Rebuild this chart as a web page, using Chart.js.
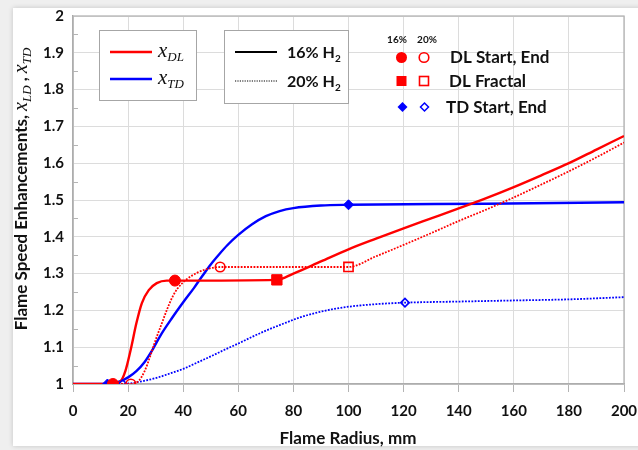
<!DOCTYPE html>
<html>
<head>
<meta charset="utf-8">
<script src="https://cdn.jsdelivr.net/npm/chart.js@4.4.1/dist/chart.umd.min.js"></script>
<style>
  html, body { margin: 0; padding: 0; background: #efefef; }
  #flame_chart { display: block; }
</style>
</head>
<body>
<canvas id="flame_chart" width="638" height="450"></canvas>
<script>
// axis tick labels
const xTickLabels = ['0', '20', '40', '60', '80', '100', '120', '140', '160', '180', '200'];
const yTickLabels = ['1', '1.1', '1.2', '1.3', '1.4', '1.5', '1.6', '1.7', '1.8', '1.9', '2'];

// DL enhancement, 16% H2 (solid red)
const dl16Radius = [0, 14.5, 17, 19, 21, 23, 25, 27.5, 30.4, 34, 37, 74, 80, 90, 100, 110, 120, 130, 140, 150, 160, 170, 180, 190, 200];
const dl16Speed  = [1, 1, 1.005, 1.035, 1.095, 1.165, 1.22, 1.255, 1.274, 1.281, 1.281, 1.283, 1.300, 1.333, 1.366, 1.395, 1.423, 1.450, 1.477, 1.505, 1.535, 1.567, 1.600, 1.637, 1.674];

// DL enhancement, 20% H2 (dotted red)
const dl20Radius = [0, 21, 24, 26, 28, 30, 32, 34, 36, 38, 41, 45, 49, 53.4, 100, 110, 120, 130, 140, 150, 160, 170, 180, 190, 200];
const dl20Speed  = [1, 1, 1.01, 1.035, 1.075, 1.12, 1.16, 1.2, 1.235, 1.26, 1.283, 1.302, 1.313, 1.318, 1.318, 1.347, 1.378, 1.41, 1.443, 1.474, 1.507, 1.542, 1.578, 1.616, 1.656];

// TD enhancement, 16% H2 (solid blue)
const td16Radius = [0, 12.5, 15, 17, 20, 23, 26, 29, 32, 36, 40, 44, 47, 50, 53, 56, 60, 65, 70, 75, 80, 90, 100, 150, 200];
const td16Speed  = [1, 1, 1.002, 1.007, 1.018, 1.035, 1.06, 1.095, 1.135, 1.18, 1.222, 1.262, 1.294, 1.325, 1.352, 1.377, 1.405, 1.434, 1.456, 1.47, 1.478, 1.485, 1.487, 1.49, 1.494];

// TD enhancement, 20% H2 (dotted blue)
const td20Radius = [0, 18, 24, 30, 35, 40, 45, 50, 55, 60, 65, 70, 76, 82, 88, 94, 100, 110, 120.5, 140, 160, 180, 200];
const td20Speed  = [1, 1, 1.006, 1.016, 1.028, 1.041, 1.058, 1.075, 1.093, 1.11, 1.128, 1.145, 1.163, 1.18, 1.193, 1.203, 1.21, 1.217, 1.221, 1.224, 1.227, 1.23, 1.236];

// marker points
const dlEnds16R = [14.5, 37];     const dlEnds16X = [1.0, 1.281];
const dlEnds20R = [21, 53.4];     const dlEnds20X = [1.0, 1.318];
const dlFrac16R = [74];           const dlFrac16X = [1.283];
const dlFrac20R = [100];          const dlFrac20X = [1.318];
const tdEnds16R = [12.5, 100];    const tdEnds16X = [1.0, 1.487];
const tdEnds20R = [18, 120.5];    const tdEnds20X = [1.0, 1.221];

const RED = 'rgb(255,0,0)';
const BLUE = 'rgb(0,0,255)';

function pts(xs, ys) {
  return xs.map((x, i) => ({ x: x, y: ys[i] }));
}

function curve(xs, ys, color, dotted) {
  return {
    type: 'line',
    data: pts(xs, ys),
    borderColor: color,
    borderWidth: dotted ? 1.8 : 2.4,
    borderDash: dotted ? [1.8, 1.4] : [],
    pointRadius: 0,
    fill: false,
    cubicInterpolationMode: 'monotone'
  };
}

function marks(xs, ys, color, style, r, filled) {
  return {
    type: 'scatter',
    data: pts(xs, ys),
    showLine: false,
    pointStyle: style,
    pointRadius: r,
    pointBorderWidth: filled ? 1 : 1.6,
    pointBorderColor: color,
    pointBackgroundColor: filled ? color : 'rgba(0,0,0,0)'
  };
}

// background card, plot frame and minor ticks
const framePlugin = {
  id: 'frame',
  beforeDraw(chart) {
    const c = chart.ctx;
    c.save();
    c.fillStyle = '#efefef';
    c.fillRect(0, 0, chart.width, chart.height);
    c.shadowColor = 'rgba(0,0,0,0.18)';
    c.shadowBlur = 5;
    c.fillStyle = '#ffffff';
    c.fillRect(13, 8, 630, 438);
    c.restore();
  },
  beforeDatasetsDraw(chart) {
    const c = chart.ctx;
    const a = chart.chartArea;
    const y = chart.scales.y;
    c.save();
    c.strokeStyle = '#b4b4b4';
    c.lineWidth = 1.3;
    c.strokeRect(a.left, a.top, a.right - a.left, a.bottom - a.top);
    c.lineWidth = 1;
    for (let v = 1.05; v < 2; v += 0.1) {
      const py = Math.round(y.getPixelForValue(v)) + 0.5;
      c.beginPath();
      c.moveTo(a.left, py);
      c.lineTo(a.left + 5, py);
      c.stroke();
    }
    c.restore();
  }
};

// text runs with mixed fonts; dy shifts the baseline for subscripts
function drawRuns(c, runs, x, y) {
  let cx = x;
  runs.forEach(r => {
    c.font = r.font;
    c.fillText(r.t, cx, y + (r.dy || 0));
    cx += c.measureText(r.t).width;
  });
  return cx;
}
function runsWidth(c, runs) {
  let w = 0;
  runs.forEach(r => { c.font = r.font; w += c.measureText(r.t).width; });
  return w;
}

const SERIF_I = 'italic 21px "Liberation Serif"';
const SERIF_SUB = 'italic 13px "Liberation Serif"';
const SANS_B = 'bold 16px Lato';

const labelsPlugin = {
  id: 'labels',
  afterDraw(chart) {
    const c = chart.ctx;
    c.save();
    c.fillStyle = '#111';
    c.textBaseline = 'alphabetic';
    c.textAlign = 'left';

    // x axis title
    c.font = 'bold 17px Lato';
    c.textAlign = 'center';
    c.fillText('Flame Radius, mm', 348, 444);
    c.textAlign = 'left';

    // y axis title, rotated
    const yRuns = [
      { t: 'Flame Speed Enhancements, ', font: 'bold 17px Lato' },
      { t: 'x', font: 'italic 20px "Liberation Serif"' },
      { t: 'LD', font: SERIF_SUB, dy: 4 },
      { t: ' , ', font: 'bold 17px Lato' },
      { t: 'x', font: 'italic 20px "Liberation Serif"' },
      { t: 'TD', font: SERIF_SUB, dy: 4 }
    ];
    c.save();
    c.translate(27, 189);
    c.rotate(-Math.PI / 2);
    drawRuns(c, yRuns, -runsWidth(c, yRuns) / 2, 0);
    c.restore();

    // series legend box
    c.fillStyle = '#fff';
    c.fillRect(99.5, 30.5, 97, 70);
    c.strokeStyle = '#a6a6a6';
    c.lineWidth = 1;
    c.strokeRect(99.5, 30.5, 97, 70);
    c.lineWidth = 2.4;
    c.strokeStyle = RED;
    c.beginPath(); c.moveTo(110, 52); c.lineTo(152, 52); c.stroke();
    c.strokeStyle = BLUE;
    c.beginPath(); c.moveTo(110, 79); c.lineTo(152, 79); c.stroke();
    c.fillStyle = '#111';
    drawRuns(c, [{ t: 'x', font: SERIF_I }, { t: 'DL', font: SERIF_SUB, dy: 4 }], 158, 57);
    drawRuns(c, [{ t: 'x', font: SERIF_I }, { t: 'TD', font: SERIF_SUB, dy: 4 }], 158, 84);

    // H2 content legend box
    c.fillStyle = '#fff';
    c.fillRect(224.5, 30.5, 124, 73);
    c.strokeStyle = '#a6a6a6';
    c.lineWidth = 1;
    c.strokeRect(224.5, 30.5, 124, 73);
    c.strokeStyle = '#000';
    c.lineWidth = 2.2;
    c.beginPath(); c.moveTo(235, 52); c.lineTo(277, 52); c.stroke();
    c.lineWidth = 1.2;
    c.setLineDash([1.2, 1.2]);
    c.beginPath(); c.moveTo(235, 81); c.lineTo(277, 81); c.stroke();
    c.setLineDash([]);
    c.fillStyle = '#111';
    drawRuns(c, [{ t: '16% H', font: SANS_B }, { t: '2', font: 'bold 10px Lato', dy: 4 }], 287, 58);
    drawRuns(c, [{ t: '20% H', font: SANS_B }, { t: '2', font: 'bold 10px Lato', dy: 4 }], 287, 87);

    // marker key
    c.font = 'bold 10px Lato';
    c.textAlign = 'center';
    c.fillText('16%', 397, 43);
    c.fillText('20%', 427, 43);
    c.textAlign = 'left';

    c.fillStyle = RED;
    c.strokeStyle = RED;
    c.lineWidth = 1.6;
    c.beginPath(); c.arc(401.5, 57.5, 5.5, 0, Math.PI * 2); c.fill();
    c.beginPath(); c.arc(424, 57.5, 4.8, 0, Math.PI * 2); c.stroke();
    c.fillRect(396.5, 76, 10, 10);
    c.strokeRect(419.5, 76.5, 9, 9);
    c.fillStyle = BLUE;
    c.strokeStyle = BLUE;
    c.beginPath();
    c.moveTo(402.5, 102); c.lineTo(407.5, 107); c.lineTo(402.5, 112); c.lineTo(397.5, 107);
    c.closePath(); c.fill();
    c.lineWidth = 1.5;
    c.beginPath();
    c.moveTo(424.5, 103); c.lineTo(428.5, 107); c.lineTo(424.5, 111); c.lineTo(420.5, 107);
    c.closePath(); c.stroke();

    c.fillStyle = '#111';
    c.font = 'bold 17px Lato';
    c.textBaseline = 'middle';
    c.fillText('DL Start, End', 450, 58);
    c.fillText('DL Fractal', 449, 82);
    c.fillText('TD Start, End', 446, 108);
    c.restore();
  }
};

const ctx = document.getElementById('flame_chart').getContext('2d');
const chart = new Chart(ctx, {
  data: {
    datasets: [
      marks(dlEnds16R, dlEnds16X, RED, 'circle', 5.5, true),
      marks(dlEnds20R, dlEnds20X, RED, 'circle', 4.8, false),
      marks(dlFrac16R, dlFrac16X, RED, 'rect', 7.3, true),
      marks(dlFrac20R, dlFrac20X, RED, 'rect', 6.5, false),
      marks(tdEnds16R, tdEnds16X, BLUE, 'rectRot', 5, true),
      marks(tdEnds20R, tdEnds20X, BLUE, 'rectRot', 4.2, false),
      curve(dl16Radius, dl16Speed, RED, false),
      curve(dl20Radius, dl20Speed, RED, true),
      curve(td16Radius, td16Speed, BLUE, false),
      curve(td20Radius, td20Speed, BLUE, true)
    ]
  },
  options: {
    responsive: false,
    devicePixelRatio: 1,
    animation: false,
    layout: { padding: { left: 0, right: 14, top: 16, bottom: 0 } },
    plugins: {
      legend: { display: false },
      tooltip: { enabled: false }
    },
    scales: {
      x: {
        type: 'linear',
        min: 0,
        max: 200,
        afterFit(s) { s.height = 66; s.paddingLeft = 0; s.paddingRight = 0; },
        border: { color: '#a0a0a0', width: 1.3 },
        grid: { color: '#dcdcdc', tickColor: '#b4b4b4', tickLength: 8, lineWidth: 1 },
        ticks: {
          stepSize: 20,
          padding: 10,
          color: '#111',
          font: { family: 'Lato', size: 15, weight: 'bold' },
          callback: (v, i) => xTickLabels[i]
        }
      },
      y: {
        type: 'linear',
        min: 1,
        max: 2,
        afterFit(s) { s.width = 73; s.paddingTop = 0; s.paddingBottom = 0; },
        border: { color: '#a0a0a0', width: 1.3 },
        grid: { color: '#dcdcdc', drawTicks: false, lineWidth: 1 },
        ticks: {
          stepSize: 0.1,
          padding: 9,
          color: '#111',
          font: { family: 'Lato', size: 15, weight: 'bold' },
          callback: (v, i) => yTickLabels[i]
        }
      }
    }
  },
  plugins: [framePlugin, labelsPlugin]
});
</script>
</body>
</html>
